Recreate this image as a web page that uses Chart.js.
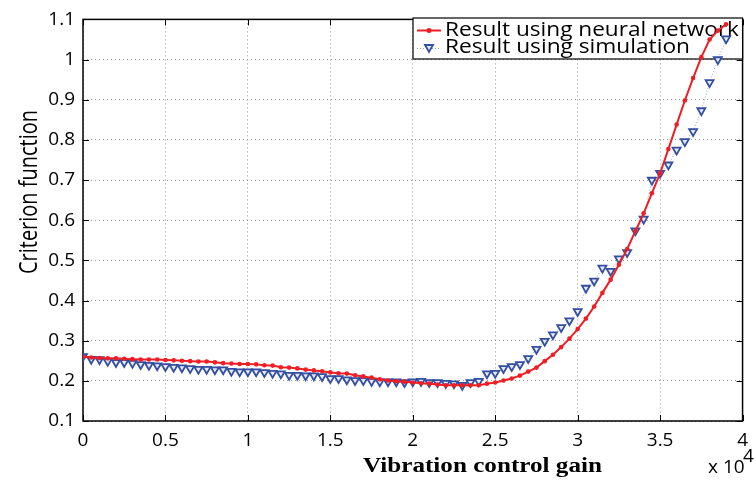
<!DOCTYPE html>
<html>
<head>
<meta charset="utf-8">
<script src="https://cdn.jsdelivr.net/npm/chart.js@4.4.1/dist/chart.umd.min.js"></script>
<style>
  html, body { margin: 0; padding: 0; background: #fff; }
  #wrap { width: 756px; height: 483px; position: relative; }
</style>
</head>
<body>
<div id="wrap"><canvas id="chart" width="756" height="483"></canvas></div>
<script>
// vibration control gain (raw units, axis shows x 10^4)
const gain = [
  0, 500, 1000, 1500, 2000, 2500, 3000, 3500, 4000, 4500,
  5000, 5500, 6000, 6500, 7000, 7500, 8000, 8500, 9000, 9500,
  10000, 10500, 11000, 11500, 12000, 12500, 13000, 13500, 14000, 14500,
  15000, 15500, 16000, 16500, 17000, 17500, 18000, 18500, 19000, 19500,
  20000, 20500, 21000, 21500, 22000, 22500, 23000, 23500, 24000, 24500,
  25000, 25500, 26000, 26500, 27000, 27500, 28000, 28500, 29000, 29500,
  30000, 30500, 31000, 31500, 32000, 32500, 33000, 33500, 34000, 34500,
  35000, 35500, 36000, 36500, 37000, 37500, 38000, 38500, 39000
];

// criterion function - neural network result
const nnResult = [
  0.260, 0.258, 0.257, 0.256, 0.256, 0.255, 0.254, 0.253, 0.253, 0.253,
  0.252, 0.251, 0.250, 0.249, 0.248, 0.248, 0.246, 0.244, 0.243, 0.242,
  0.242, 0.241, 0.239, 0.238, 0.234, 0.233, 0.231, 0.228, 0.226, 0.224,
  0.221, 0.219, 0.218, 0.214, 0.211, 0.208, 0.204, 0.201, 0.199, 0.198,
  0.196, 0.194, 0.193, 0.191, 0.189, 0.189, 0.189, 0.189, 0.189, 0.193,
  0.196, 0.201, 0.206, 0.213, 0.223, 0.233, 0.249, 0.265, 0.284, 0.305,
  0.329, 0.355, 0.385, 0.419, 0.452, 0.489, 0.528, 0.573, 0.617, 0.667,
  0.717, 0.777, 0.838, 0.898, 0.954, 1.006, 1.050, 1.072, 1.088
];

// criterion function - simulation result
const simResult = [
  0.261, 0.254, 0.253, 0.249, 0.246, 0.246, 0.244, 0.241, 0.239, 0.238,
  0.236, 0.234, 0.233, 0.231, 0.229, 0.229, 0.228, 0.228, 0.224, 0.223,
  0.223, 0.223, 0.221, 0.219, 0.218, 0.214, 0.214, 0.213, 0.213, 0.211,
  0.206, 0.206, 0.203, 0.201, 0.201, 0.199, 0.198, 0.198, 0.198, 0.196,
  0.198, 0.199, 0.196, 0.196, 0.194, 0.193, 0.189, 0.196, 0.199, 0.218,
  0.219, 0.231, 0.236, 0.241, 0.256, 0.279, 0.299, 0.315, 0.333, 0.350,
  0.373, 0.431, 0.449, 0.481, 0.473, 0.504, 0.520, 0.574, 0.603, 0.700,
  0.717, 0.738, 0.775, 0.796, 0.821, 0.873, 0.943, 1.000, 1.052
];

const yTicks = [0.1, 0.2, 0.3, 0.4, 0.5, 0.6, 0.7, 0.8, 0.9, 1, 1.1];

const seriesNames = ["Result using neural network", "Result using simulation"];

const RED = "rgb(238,30,36)";
const BLUE = "rgb(52,78,160)";
const BLUE_LINE = "rgba(110,140,210,0.8)";
const SANS = '"Open Sans", "Noto Sans", sans-serif';

// draw text squeezed/stretched along its baseline to a given width
function fitText(ctx, text, x, y, width) {
  const w = ctx.measureText(text).width;
  ctx.save();
  ctx.translate(x, y);
  ctx.scale(width / w, 1);
  ctx.fillText(text, 0, 0);
  ctx.restore();
}

// frame, inward ticks, legend and axis titles (matlab style)
const matlabFrame = {
  id: "matlabFrame",
  beforeDatasetsDraw(chart) {
    const { ctx, chartArea: a } = chart;
    const xs = chart.scales.x, ys = chart.scales.y;
    ctx.save();
    ctx.strokeStyle = "#000";
    ctx.lineWidth = 1.5;
    ctx.strokeRect(a.left, a.top, a.right - a.left, a.bottom - a.top);

    ctx.lineWidth = 1;
    ctx.beginPath();
    xs.ticks.forEach(t => {
      const px = Math.round(xs.getPixelForValue(t.value)) + 0.5;
      ctx.moveTo(px, a.bottom); ctx.lineTo(px, a.bottom - 6);
      ctx.moveTo(px, a.top); ctx.lineTo(px, a.top + 6);
    });
    ys.ticks.forEach(t => {
      const py = Math.round(ys.getPixelForValue(t.value)) + 0.5;
      ctx.moveTo(a.left, py); ctx.lineTo(a.left + 6, py);
      ctx.moveTo(a.right, py); ctx.lineTo(a.right - 6, py);
    });
    ctx.stroke();

    // legend box
    const lx = 413, ly = 18, lw = a.right - 413, lh = 41;
    ctx.fillStyle = "#fff";
    ctx.fillRect(lx, ly, lw, lh);
    ctx.strokeStyle = "#000";
    ctx.lineWidth = 1.2;
    ctx.strokeRect(lx, ly, lw, lh);

    ctx.font = "19.5px " + SANS;
    ctx.fillStyle = "#000";
    ctx.textBaseline = "middle";
    ctx.textAlign = "left";
    fitText(ctx, seriesNames[0], 445, 30, 294);
    fitText(ctx, seriesNames[1], 445, 47, 245);

    ctx.strokeStyle = RED;
    ctx.lineWidth = 2;
    ctx.beginPath(); ctx.moveTo(417, 30.5); ctx.lineTo(441, 30.5); ctx.stroke();
    ctx.fillStyle = RED;
    ctx.beginPath(); ctx.arc(429, 30.5, 2.5, 0, Math.PI * 2); ctx.fill();

    ctx.strokeStyle = BLUE_LINE;
    ctx.lineWidth = 1;
    ctx.setLineDash([1, 2]);
    ctx.beginPath(); ctx.moveTo(417, 48.5); ctx.lineTo(441, 48.5); ctx.stroke();
    ctx.setLineDash([]);
    ctx.strokeStyle = BLUE;
    ctx.lineWidth = 1.8;
    ctx.fillStyle = "#e4eaf7";
    ctx.beginPath();
    ctx.moveTo(425, 45); ctx.lineTo(433, 45); ctx.lineTo(429, 52); ctx.closePath();
    ctx.fill(); ctx.stroke();
    ctx.restore();
  },
  afterDraw(chart) {
    const { ctx } = chart;
    ctx.save();
    ctx.fillStyle = "#000";
    ctx.textAlign = "left";
    ctx.textBaseline = "alphabetic";
    ctx.font = 'bold 20px "Liberation Serif", "Times New Roman", serif';
    fitText(ctx, "Vibration control gain", 363, 472, 239);

    ctx.font = "19px " + SANS;
    ctx.fillText("x 10", 708, 473);
    ctx.fillText("4", 743, 462);

    ctx.translate(37, 274);
    ctx.rotate(-Math.PI / 2);
    ctx.font = "25px " + SANS;
    fitText(ctx, "Criterion function", 0, 0, 164);
    ctx.restore();
  }
};

const ctx = document.getElementById("chart").getContext("2d");
new Chart(ctx, {
  type: "line",
  data: {
    datasets: [
      {
        label: seriesNames[0],
        data: gain.map((g, i) => ({ x: g, y: nnResult[i] })),
        borderColor: RED,
        backgroundColor: RED,
        borderWidth: 2,
        pointStyle: "circle",
        pointRadius: 2.3,
        pointBorderWidth: 0,
        tension: 0,
      },
      {
        label: seriesNames[1],
        data: gain.map((g, i) => ({ x: g, y: simResult[i] })),
        borderColor: BLUE_LINE,
        borderWidth: 1,
        borderDash: [1, 2],
        pointStyle: "triangle",
        rotation: 180,
        pointRadius: 4.6,
        pointBorderColor: BLUE,
        pointBackgroundColor: "#e4eaf7",
        pointBorderWidth: 1.8,
        tension: 0,
      },
    ],
  },
  options: {
    responsive: false,
    animation: false,
    layout: { padding: { left: 0, top: 19, right: 13, bottom: 0 } },
    plugins: { legend: { display: false }, tooltip: { enabled: false } },
    scales: {
      x: {
        type: "linear",
        min: 0,
        max: 40000,
        afterFit: s => { s.height = 62; },
        ticks: {
          stepSize: 5000,
          padding: 8,
          color: "#000",
          font: { family: SANS, size: 19 },
          maxRotation: 0,
          callback: v => String(v / 10000),
        },
        grid: { color: "#999", drawTicks: false, lineWidth: 1 },
        border: { display: false, dash: [1, 3] },
      },
      y: {
        min: 0.1,
        max: 1.1,
        afterFit: s => { s.width = 83; },
        afterBuildTicks: s => { s.ticks = yTicks.map(v => ({ value: v })); },
        ticks: {
          padding: 8,
          color: "#000",
          font: { family: SANS, size: 19 },
          callback: v => String(Math.round(v * 10) / 10),
        },
        grid: { color: "#999", drawTicks: false, lineWidth: 1 },
        border: { display: false, dash: [1, 3] },
      },
    },
  },
  plugins: [matlabFrame],
});
</script>
</body>
</html>
